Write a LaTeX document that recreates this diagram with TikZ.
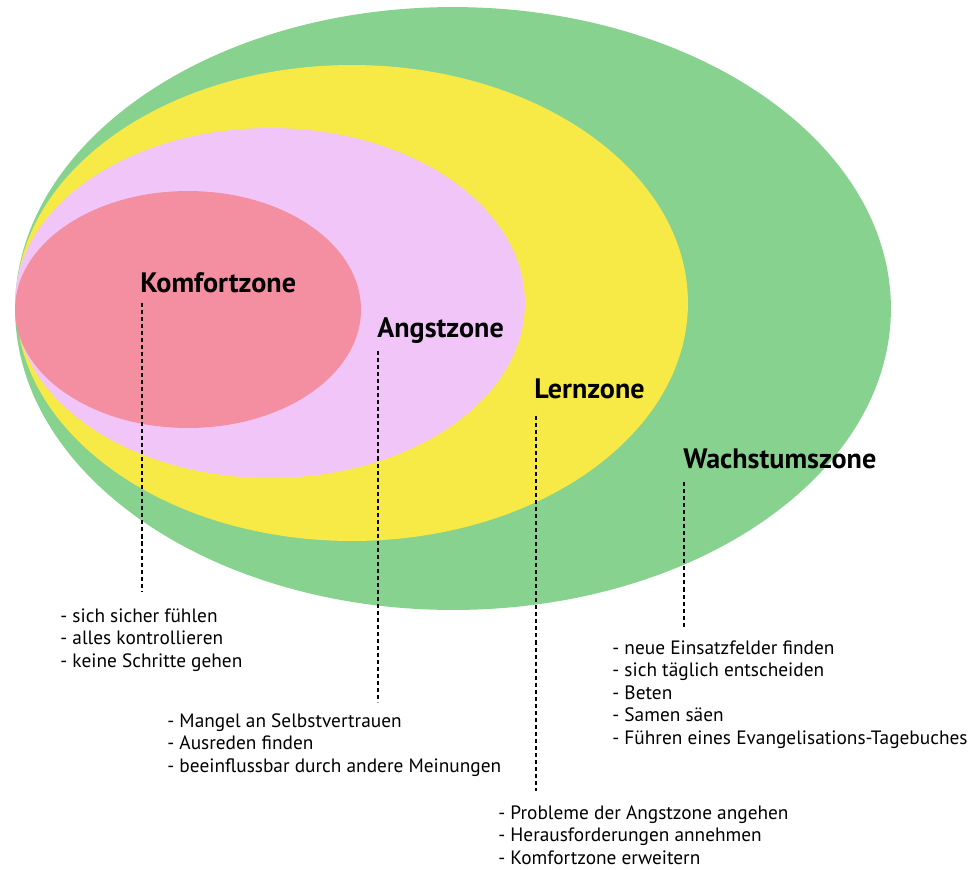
\documentclass[tikz,border=0pt]{standalone}
\usepackage{fontspec}
\setmainfont{PT Sans}
\definecolor{wachstumgreen}{RGB}{135,210,143}
\definecolor{lernyellow}{RGB}{248,234,70}
\definecolor{angstpink}{RGB}{242,197,248}
\definecolor{komfortred}{RGB}{243,143,160}
\begin{document}
\begin{tikzpicture}[x=0.02cm, y=-0.02cm, zone node/.style={anchor=base west, inner sep=0pt, font=\bfseries\fontsize{16}{19}\selectfont}, list node/.style={anchor=north west, inner sep=0pt, align=left, font=\fontsize{11}{12.8}\selectfont}, zone line/.style={line width=1.1pt, dash pattern=on 2.3pt off 1.7pt}]

                        \useasboundingbox (0,0) rectangle (972,869);

                        % zones
                        \fill[wachstumgreen] (453,308.5) ellipse [x radius=8.76cm, y radius=6.03cm];
                        \fill[lernyellow] (352,303) ellipse [x radius=6.72cm, y radius=4.76cm];
                        \fill[angstpink] (270,303) ellipse [x radius=5.10cm, y radius=3.50cm];
                        \fill[komfortred] (188,309.5) ellipse [x radius=3.46cm, y radius=2.37cm];

                        \node[zone node] at (140,292) (komfort) {Komfortzone};
                        \node[zone node] at (377,337) (angst) {Angstzone};
                        \node[zone node] at (534,398) (lern) {Lernzone};
                        \node[zone node] at (683,468) (wachstum) {Wachstumszone};

                        \node[list node] at (60,608) (komfortlist) {- sich sicher fühlen\\- alles kontrollieren\\- keine Schritte gehen};
                        \node[list node] at (167,713) (angstlist) {- Mangel an Selbstvertrauen\\- Ausreden finden\\- beeinflussbar durch andere Meinungen};
                        \node[list node] at (498,805) (lernlist) {- Probleme der Angstzone angehen\\- Herausforderungen annehmen\\- Komfortzone erweitern};
                        \node[list node] at (612,640) (wachstumlist) {- neue Einsatzfelder finden\\- sich täglich entscheiden\\- Beten\\- Samen säen\\- Führen eines Evangelisations-Tagebuches};

                        \draw[zone line] ([xshift=1.2pt,yshift=-6pt]komfort.base west) -- ([xshift=1.2pt,yshift=9pt]komfort.base west |- komfortlist.north);
                        \draw[zone line] ([xshift=0.6pt,yshift=-8pt]angst.base west) -- ([xshift=0.6pt,yshift=6pt]angst.base west |- angstlist.north);
                        \draw[zone line] ([xshift=1pt,yshift=-10pt]lern.base west) -- ([xshift=1pt,yshift=8pt]lern.base west |- lernlist.north);
                        \draw[zone line] ([xshift=0.6pt,yshift=-8pt]wachstum.base west) -- ([xshift=0.6pt,yshift=7pt]wachstum.base west |- wachstumlist.north);

                    \end{tikzpicture}
\end{document}
